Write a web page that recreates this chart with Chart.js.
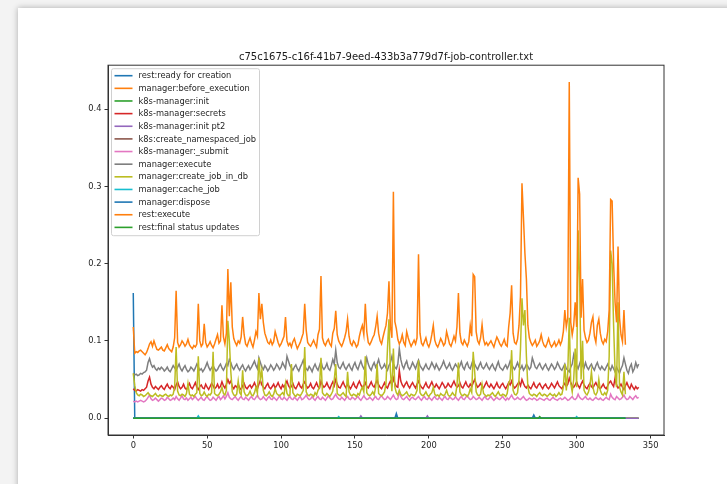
<!DOCTYPE html>
<html lang="en">
<head>
  <meta charset="UTF-8">
  <title>job-controller timings</title>
  <script src="https://cdn.jsdelivr.net/npm/chart.js"></script>
  <style>
    body {
      margin: 0;
      background-color: #f3f3f3;
      overflow: hidden;
      font-family: "DejaVu Sans", sans-serif;
    }
    .card {
      position: absolute;
      left: 18px;
      top: 8px;
      width: 800px;
      height: 600px;
      background-color: #ffffff;
      box-shadow: 0 0 6px rgba(0, 0, 0, 0.3);
    }
    #chart {
      position: absolute;
      left: 18px;
      top: 8px;
    }
  </style>
</head>
<body>
  <div class="card"></div>
  <canvas id="chart" width="709" height="476"></canvas>

  <script>
    const title = 'c75c1675-c16f-41b7-9eed-433b3a779d7f-job-controller.txt';
    const xTicks = [0, 50, 100, 150, 200, 250, 300, 350];
    const yTicks = [0.0, 0.1, 0.2, 0.3, 0.4];

    const labels = [
      'rest:ready for creation', 'manager:before_execution', 'k8s-manager:init',
      'k8s-manager:secrets', 'k8s-manager:init pt2', 'k8s:create_namespaced_job',
      'k8s-manager:_submit', 'manager:execute', 'manager:create_job_in_db',
      'manager:cache_job', 'manager:dispose', 'rest:execute', 'rest:final status updates'
    ];

    // near-zero series, only the points where something happens (seconds)
    const readyX = [0, 1, 333];
    const readyY = [0.162, 0, 0];
    const beforeExecX = [0, 342];
    const beforeExecY = [0, 0];
    const k8sInitX = [0, 342];
    const k8sInitY = [0, 0];
    const initPt2X = [0, 153, 154, 155, 198, 199, 200, 342];
    const initPt2Y = [0, 0, 0.003, 0, 0, 0.003, 0, 0];
    const namespacedX = [0, 333];
    const namespacedY = [0, 0];
    const cacheJobX = [0, 43, 44, 45, 138, 139, 140, 299, 300, 301, 333];
    const cacheJobY = [0, 0, 0.003, 0, 0, 0.002, 0, 0, 0.002, 0, 0];
    const disposeX = [0, 177, 178, 179, 270, 271, 272, 333];
    const disposeY = [0, 0, 0.006, 0, 0, 0.004, 0, 0];
    const finalX = [0, 274, 275, 276, 333];
    const finalY = [0, 0, 0.002, 0, 0];

    // per-run timings in ms, one value per run index
    const secretsMs = [
      38, 36, 35, 37, 36, 35, 37, 36, 38, 40,
      48, 53, 44, 40, 38, 41, 39, 37, 40, 42,
      39, 37, 41, 44, 40, 38, 42, 40, 37, 43,
      47, 41, 38, 40, 44, 39, 37, 41, 45, 40,
      38, 42, 46, 40, 37, 41, 43, 39, 38, 44,
      40, 37, 41, 45, 42, 38, 40, 44, 39, 41,
      47, 42, 39, 44, 50, 45, 48, 41, 38, 42,
      40, 44, 39, 37, 42, 45, 40, 38, 41, 43,
      39, 42, 46, 41, 38, 44, 49, 43, 40, 38,
      42, 45, 40, 38, 41, 44, 39, 42, 46, 41,
      38, 43, 40, 44, 48, 42, 39, 41, 45, 40,
      38, 42, 46, 41, 39, 44, 47, 42, 39, 41,
      45, 40, 38, 42, 46, 41, 39, 48, 43, 40,
      42, 46, 41, 38, 43, 47, 42, 50, 44, 40,
      39, 43, 47, 42, 39, 44, 41, 38, 42, 46,
      41, 39, 44, 48, 43, 40, 42, 46, 41, 39,
      43, 47, 42, 40, 45, 49, 43, 40, 38, 42,
      46, 41, 39, 44, 48, 43, 52, 45, 41, 40,
      62, 48, 43, 40, 44, 47, 42, 39, 43, 46,
      42, 39, 44, 48, 43, 40, 38, 42, 46, 41,
      39, 43, 47, 42, 40, 44, 41, 38, 42, 46,
      43, 39, 41, 45, 42, 40, 44, 48, 43, 40,
      42, 46, 41, 39, 43, 47, 42, 40, 44, 41,
      46, 50, 44, 40, 42, 45, 41, 39, 43, 47,
      42, 40, 44, 41, 38, 42, 46, 41, 39, 43,
      45, 41, 38, 42, 46, 43, 48, 42, 39, 41,
      44, 47, 42, 50, 45, 41, 39, 43, 40, 38,
      42, 46, 41, 39, 43, 45, 41, 38, 42, 44,
      40, 38, 41, 45, 42, 39, 43, 47, 42, 40,
      38, 42, 45, 41, 44, 52, 46, 42, 40, 43,
      47, 42, 39, 44, 48, 43, 40, 38, 42, 45,
      41, 39, 43, 46, 42, 40, 38, 41, 44, 40,
      38, 42, 46, 48, 44, 41, 52, 43, 39, 41,
      44, 40, 37, 42, 46, 41, 38, 44, 40, 37,
      41, 38, 40
    ];

    const submitMs = [
      22, 21, 22, 21, 22, 23, 22, 21, 22, 24,
      27, 30, 25, 23, 24, 26, 24, 22, 24, 26,
      25, 23, 24, 27, 25, 23, 24, 26, 24, 28,
      25, 23, 26, 29, 25, 24, 26, 23, 25, 27,
      24, 26, 28, 25, 23, 25, 27, 24, 23, 26,
      28, 25, 23, 24, 27, 25, 23, 26, 28, 24,
      26, 29, 25, 28, 33, 27, 25, 24, 26, 28,
      25, 23, 26, 28, 25, 24, 27, 25, 23, 26,
      28, 25, 24, 27, 30, 26, 24, 25, 28, 25,
      23, 26, 28, 25, 24, 27, 25, 23, 26, 29,
      25, 24, 27, 25, 23, 26, 28, 25, 24, 27,
      25, 23, 26, 28, 24, 25, 27, 30, 26, 24,
      25, 28, 25, 23, 26, 28, 25, 24, 27, 25,
      23, 26, 29, 26, 24, 25, 28, 31, 27, 25,
      24, 27, 25, 23, 26, 28, 25, 24, 27, 26,
      24, 26, 28, 25, 23, 26, 29, 26, 24, 25,
      27, 25, 23, 26, 28, 25, 24, 27, 29, 26,
      24, 25, 28, 26, 24, 27, 30, 26, 24, 25,
      34, 28, 25, 24, 26, 28, 25, 23, 26, 27,
      25, 24, 26, 28, 25, 23, 26, 28, 25, 24,
      27, 25, 23, 26, 28, 25, 24, 27, 25, 23,
      26, 28, 25, 24, 27, 26, 24, 25, 28, 25,
      23, 26, 28, 25, 24, 27, 29, 26, 24, 25,
      28, 26, 24, 25, 27, 25, 23, 26, 28, 25,
      24, 26, 28, 25, 23, 25, 27, 25, 24, 26,
      28, 25, 23, 26, 24, 27, 30, 26, 24, 25,
      27, 25, 24, 26, 28, 25, 23, 24, 26, 25,
      24, 26, 25, 23, 24, 26, 25, 24, 23, 25,
      26, 24, 23, 25, 27, 25, 24, 23, 25, 26,
      24, 25, 27, 25, 23, 24, 26, 28, 25, 24,
      26, 31, 27, 25, 24, 26, 28, 25, 24, 26,
      24, 23, 25, 27, 25, 24, 26, 24, 23, 25,
      27, 25, 24, 31, 27, 25, 24, 28, 26, 24,
      25, 27, 30, 26, 24, 25, 28, 26, 24, 27,
      29, 26, 27
    ];

    const executeMs = [
      58, 56, 57, 55, 56, 58, 57, 59, 60, 62,
      72, 77, 70, 66, 68, 64, 62, 65, 63, 66,
      64, 61, 63, 66, 62, 60, 64, 68, 65, 62,
      66, 70, 64, 61, 65, 68, 63, 60, 62, 66,
      64, 61, 65, 70, 66, 62, 64, 60, 63, 67,
      72, 66, 62, 65, 68, 64, 61, 63, 67, 70,
      65, 62, 66, 71, 68, 76, 72, 66, 63, 67,
      70, 65, 62, 66, 69, 64, 61, 65, 68, 63,
      66, 70, 74, 68, 64, 78, 72, 66, 63, 68,
      65, 61, 64, 69, 66, 62, 65, 70, 67, 63,
      66, 72, 68, 64, 80, 74, 68, 65, 62, 66,
      69, 64, 61, 66, 70, 75, 68, 64, 62, 67,
      64, 60, 66, 70, 65, 62, 68, 74, 66, 63,
      66, 71, 64, 62, 68, 76, 70, 88, 72, 66,
      64, 68, 72, 66, 63, 67, 70, 65, 62, 68,
      72, 66, 63, 69, 74, 68, 64, 67, 78, 70,
      65, 62, 68, 72, 66, 70, 76, 68, 64, 66,
      70, 65, 62, 68, 72, 80, 70, 66, 64, 70,
      90, 76, 68, 64, 70, 74, 66, 63, 67, 72,
      68, 64, 70, 75, 68, 65, 62, 66, 70, 65,
      63, 67, 72, 68, 64, 70, 66, 62, 65, 69,
      74, 68, 64, 67, 71, 65, 62, 66, 70, 67,
      64, 68, 73, 66, 63, 69, 72, 66, 64, 70,
      76, 70, 66, 63, 68, 72, 66, 64, 67, 71,
      66, 63, 67, 70, 65, 62, 68, 73, 66, 64,
      62, 66, 69, 64, 68, 74, 70, 66, 63, 67,
      72, 66, 64, 68, 62, 65, 70, 67, 63, 66,
      78, 72, 66, 64, 68, 71, 66, 63, 67, 70,
      65, 62, 66, 70, 67, 63, 66, 72, 68, 64,
      62, 66, 70, 64, 62, 60, 66, 70, 82, 74,
      68, 64, 70, 76, 68, 65, 72, 66, 63, 67,
      70, 65, 62, 68, 72, 66, 63, 67, 64, 62,
      66, 70, 65, 62, 68, 64, 60, 66, 62, 58,
      64, 68, 78, 70, 62, 58, 66, 70, 60, 64,
      72, 66, 70
    ];

    const createJobMs = [
      58, 42, 33, 30, 29, 31, 30, 28, 29, 31,
      33, 30, 29, 28, 30, 32, 29, 28, 30, 29,
      28, 30, 31, 29, 28, 30, 29, 31, 40, 92,
      35, 30, 29, 31, 30, 28, 32, 45, 31, 29,
      30, 28, 31, 33, 80, 32, 29, 30, 34, 30,
      28, 31, 30, 33, 86, 32, 30, 29, 31, 34,
      40, 32, 30, 36, 126, 100, 60, 34, 30, 29,
      31, 48, 33, 30, 62, 34, 30, 29, 31, 35,
      30, 29, 33, 40, 32, 78, 50, 62, 36, 30,
      29, 31, 34, 30, 28, 31, 38, 32, 30, 29,
      31, 33, 30, 45, 32, 29, 30, 70, 33, 30,
      28, 31, 30, 29, 32, 36, 92, 34, 30, 29,
      31, 30, 28, 33, 30, 36, 40, 78, 33, 30,
      29, 32, 30, 28, 31, 35, 50, 70, 32, 30,
      29, 31, 33, 30, 28, 60, 34, 30, 29, 31,
      30, 28, 32, 30, 36, 40, 34, 80, 33, 30,
      29, 31, 34, 30, 40, 70, 32, 30, 29, 31,
      34, 45, 90, 128, 60, 35, 90, 40, 33, 30,
      36, 31, 29, 30, 32, 34, 30, 28, 31, 30,
      29, 31, 36, 75, 33, 30, 29, 31, 34, 30,
      28, 31, 33, 40, 31, 29, 30, 28, 32, 30,
      29, 31, 36, 30, 28, 30, 33, 30, 29, 42,
      72, 34, 30, 29, 31, 30, 28, 31, 38, 33,
      86, 60, 34, 30, 29, 31, 44, 32, 30, 28,
      30, 29, 31, 33, 30, 28, 31, 34, 30, 29,
      31, 30, 28, 32, 45, 50, 88, 36, 31, 30,
      33, 50, 90, 155, 120, 140, 80, 40, 32, 30,
      29, 31, 30, 28, 31, 33, 30, 29, 31, 30,
      28, 30, 32, 30, 29, 31, 28, 30, 33, 30,
      31, 40, 70, 36, 60, 130, 45, 34, 50, 90,
      40, 243, 180, 50, 100, 36, 32, 30, 34, 42,
      60, 40, 32, 30, 34, 50, 36, 31, 30, 33,
      30, 36, 80, 217, 200, 120, 60, 40, 150, 40,
      34, 30, 60, 31
    ];

    const restExecuteMs = [
      118, 84, 86, 85, 87, 88, 86, 84, 82, 85,
      90, 96, 99, 93, 100, 94, 89, 88, 90, 92,
      88, 87, 91, 95, 90, 88, 86, 92, 104, 165,
      98, 92, 95, 100, 97, 93, 96, 102, 95, 92,
      90, 94, 92, 96, 148, 100, 93, 96, 122, 98,
      92, 95, 99, 94, 91, 96, 102, 108, 97, 100,
      146, 105, 96, 110, 193, 132, 176, 118, 103, 98,
      94, 100, 97, 105, 131, 108, 96, 93, 99, 104,
      97, 92, 101, 112, 106, 162, 128, 148, 124, 110,
      104, 98, 96, 101, 95, 99, 112, 105, 98, 93,
      96, 101, 106, 131, 100, 94, 97, 92, 99, 103,
      96, 90, 94, 98, 104, 110, 148, 114, 98, 95,
      93, 97, 101, 96, 92, 108, 115, 184, 104, 97,
      94, 99, 102, 96, 93, 110, 116, 139, 108, 100,
      96, 93, 98, 104, 112, 128, 106, 97, 94, 100,
      97, 92, 95, 106, 114, 120, 108, 148, 112, 98,
      95, 99, 104, 108, 118, 132, 110, 100, 96, 105,
      113, 120, 136, 177, 118, 104, 293, 125, 116, 102,
      96, 100, 108, 98, 94, 112, 104, 98, 93, 97,
      101, 96, 104, 212, 110, 97, 94, 99, 104, 96,
      92, 98, 108, 120, 101, 95, 92, 97, 103, 99,
      94, 97, 112, 104, 96, 93, 99, 106, 100, 118,
      162, 110, 98, 95, 101, 97, 93, 99, 120, 106,
      186, 183, 112, 100, 96, 104, 121, 102, 95, 98,
      94, 97, 100, 96, 92, 99, 105, 101, 96, 93,
      97, 102, 95, 93, 118, 136, 172, 110, 98, 96,
      102, 120, 158, 304, 260, 213, 180, 120, 104, 98,
      94, 97, 101, 93, 96, 100, 108, 99, 94, 92,
      97, 103, 96, 92, 95, 99, 93, 96, 101, 95,
      100, 112, 140, 118, 130, 435, 124, 108, 120, 150,
      118, 311, 290, 130, 180, 114, 104, 98, 101, 110,
      124, 131, 106, 98, 120, 128, 110, 100, 96, 102,
      99, 112, 140, 283, 281, 200, 150, 124, 222, 130,
      108, 99, 140, 95
    ];

    // matplotlib tab10 cycle
    const palette = [
      '#1f77b4', '#ff7f0e', '#2ca02c', '#d62728', '#9467bd', '#8c564b', '#e377c2',
      '#7f7f7f', '#bcbd22', '#17becf', '#1f77b4', '#ff7f0e', '#2ca02c'
    ];

    function sparse(xs, ys) {
      return xs.map((x, i) => ({ x: x, y: ys[i] }));
    }
    function perRun(ms) {
      return ms.map((v, i) => ({ x: i, y: v / 1000 }));
    }

    const seriesData = [
      sparse(readyX, readyY),
      sparse(beforeExecX, beforeExecY),
      sparse(k8sInitX, k8sInitY),
      perRun(secretsMs),
      sparse(initPt2X, initPt2Y),
      sparse(namespacedX, namespacedY),
      perRun(submitMs),
      perRun(executeMs),
      perRun(createJobMs),
      sparse(cacheJobX, cacheJobY),
      sparse(disposeX, disposeY),
      perRun(restExecuteMs),
      sparse(finalX, finalY)
    ];

    const FONT = '"DejaVu Sans", sans-serif';

    // matplotlib-like legend box in the upper left of the axes
    const legendBox = {
      id: 'legendBox',
      afterDatasetsDraw(chart) {
        const ctx = chart.ctx;
        const area = chart.chartArea;
        const x0 = area.left + 3.5, y0 = area.top + 3.5;
        const w = 148, h = 167, rowH = 12.64;
        ctx.save();
        ctx.beginPath();
        ctx.roundRect(x0, y0, w, h, 2);
        ctx.fillStyle = 'rgba(255,255,255,0.8)';
        ctx.fill();
        ctx.strokeStyle = '#d0d0d0';
        ctx.lineWidth = 1;
        ctx.stroke();
        ctx.font = '8.3px ' + FONT;
        ctx.textBaseline = 'middle';
        chart.data.datasets.forEach((ds, i) => {
          const y = y0 + 7 + i * rowH;
          ctx.beginPath();
          ctx.moveTo(x0 + 3, y);
          ctx.lineTo(x0 + 21, y);
          ctx.strokeStyle = ds.borderColor;
          ctx.lineWidth = 1.6;
          ctx.stroke();
          ctx.fillStyle = '#262626';
          ctx.fillText(ds.label, x0 + 27, y + 0.5);
        });
        ctx.restore();
      }
    };

    // full axes frame
    const frame = {
      id: 'frame',
      afterDraw(chart) {
        const ctx = chart.ctx;
        const a = chart.chartArea;
        ctx.save();
        ctx.strokeStyle = '#333333';
        ctx.lineWidth = 1;
        ctx.strokeRect(a.left, a.top, a.right - a.left, a.bottom - a.top);
        ctx.restore();
      }
    };

    new Chart(document.getElementById('chart'), {
      type: 'line',
      data: {
        datasets: labels.map((label, i) => ({
          label: label,
          data: seriesData[i],
          borderColor: palette[i],
          backgroundColor: palette[i],
          borderWidth: 1.5,
          pointRadius: 0,
          tension: 0,
          fill: false,
          order: -i
        }))
      },
      options: {
        responsive: false,
        animation: false,
        layout: { padding: { left: 50, right: 63, top: 0, bottom: 19 } },
        plugins: {
          legend: { display: false },
          tooltip: { enabled: false },
          title: {
            display: true,
            text: title,
            fullSize: false,
            color: '#1a1a1a',
            font: { family: FONT, size: 10, weight: 'normal', lineHeight: 1.2 },
            padding: { top: 43.2, bottom: 2 }
          }
        },
        scales: {
          x: {
            type: 'linear',
            min: -17.1,
            max: 359.1,
            afterFit: (scale) => { scale.height = 30; },
            afterBuildTicks: (scale) => { scale.ticks = xTicks.map(v => ({ value: v })); },
            grid: { drawOnChartArea: false, drawTicks: true, tickLength: 3.5, color: '#333333' },
            border: { display: true, color: '#333333', width: 1 },
            ticks: {
              color: '#262626',
              padding: 2,
              maxRotation: 0,
              font: { family: FONT, size: 8.3 },
              callback: (v) => String(v)
            }
          },
          y: {
            type: 'linear',
            min: -0.0218,
            max: 0.4568,
            afterFit: (scale) => { scale.width = 40; },
            afterBuildTicks: (scale) => { scale.ticks = yTicks.map(v => ({ value: v })); },
            grid: { drawOnChartArea: false, drawTicks: true, tickLength: 3.5, color: '#333333' },
            border: { display: true, color: '#333333', width: 1 },
            ticks: {
              color: '#262626',
              padding: 3,
              font: { family: FONT, size: 8.3 },
              callback: (v) => v.toFixed(1)
            }
          }
        }
      },
      plugins: [legendBox, frame]
    });
  </script>
</body>
</html>
